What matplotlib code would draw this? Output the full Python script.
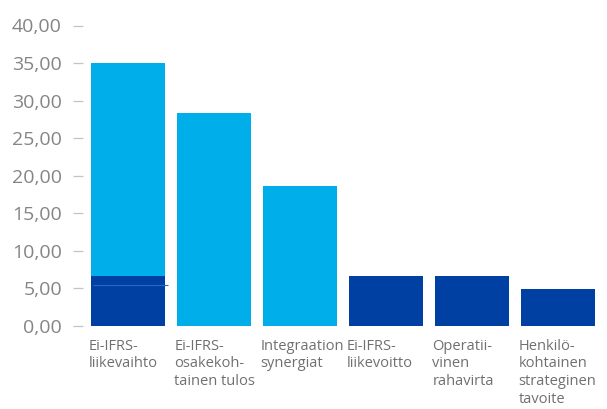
import matplotlib
matplotlib.use("Agg")
import matplotlib.pyplot as plt
import matplotlib.transforms as mtransforms
import numpy as np

categories = [
    "Ei-IFRS-\nliikevaihto",
    "Ei-IFRS-\nosakekoh-\ntainen tulos",
    "Integraation\nsynergiat",
    "Ei-IFRS-\nliikevoitto",
    "Operatii-\nvinen\nrahavirta",
    "Henkilö-\nkohtainen\nstrateginen\ntavoite",
]
light_values = [35.0, 28.3, 18.6, 0.0, 0.0, 0.0]
dark_values = [6.67, 0.0, 0.0, 6.67, 6.67, 4.95]
marker_line_value = 5.4
yticks = [0, 5, 10, 15, 20, 25, 30, 35, 40]
ytick_labels = ["0,00", "5,00", "10,00", "15,00", "20,00", "25,00", "30,00", "35,00", "40,00"]

LIGHT = "#00AEEA"
DARK = "#0040A3"

plt.rcParams["font.family"] = ["Open Sans", "DejaVu Sans"]

W, H = 607, 409
fig = plt.figure(figsize=(W / 100, H / 100), dpi=100)
left_px, right_px = 83, 600
bottom_px, top_px = 326, 25.5
ax = fig.add_axes([left_px / W, (H - bottom_px) / H,
                   (right_px - left_px) / W, (bottom_px - top_px) / H])

x = np.arange(len(categories))
width = 0.86
ax.bar(x, light_values, width=width, color=LIGHT, zorder=2)
ax.bar(x, dark_values, width=width, color=DARK, zorder=3)
ax.hlines(marker_line_value, -0.41, 0.465, color="#2a66c6", linewidth=0.8, zorder=4)

# map data x: center 0 at 128 px, 86 px per unit
ax.set_xlim(-(128 - left_px) / 86, (right_px - 128) / 86)
ax.set_ylim(0, 40)
ax.set_yticks(yticks)
ax.set_yticklabels(ytick_labels)
ax.set_xticks([])
for s in ax.spines.values():
    s.set_visible(False)
ax.tick_params(axis="y", direction="out", length=7.2, width=0.9, color="#c4c4c4",
               pad=8.0, labelsize=14, labelcolor="#858585")

trans = mtransforms.blended_transform_factory(ax.transData, ax.transAxes)
for i, lab in enumerate(categories):
    ax.text(i - 0.46, -0.042, lab, transform=trans, ha="left", va="top",
            fontsize=10.5, color="#707070", linespacing=1.26)

fig.savefig("out.png", dpi=100)
